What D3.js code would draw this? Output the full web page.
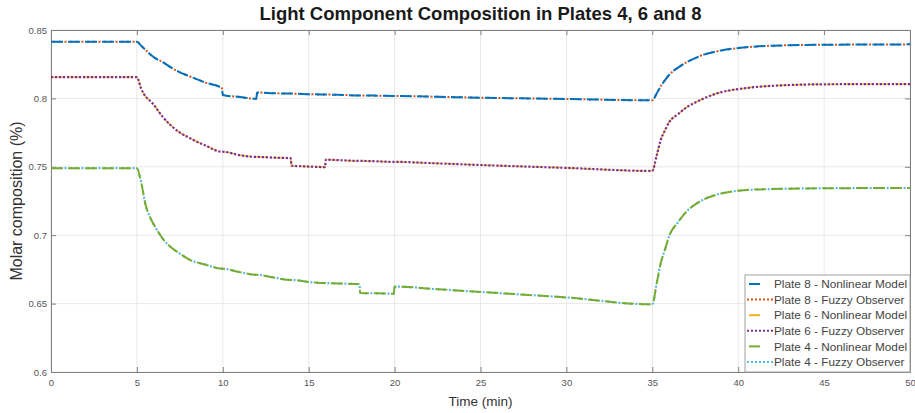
<!DOCTYPE html>
<meta charset="utf-8">
<html>
<head>
    <script src="https://d3js.org/d3.v7.min.js"></script>
    <style>
      body { margin: 0; background: #fff; }
      text { font-family: "Liberation Sans", Arial, sans-serif; }
    </style>
</head>
<body>
<div id="chart"></div>

<script>
    // time samples (min), shared by every series
    const time = [0, 5, 5.25, 5.5, 5.75, 6, 6.5, 7, 7.5, 8, 9, 9.95, 10, 11, 11.95, 12, 13, 13.95, 14, 15, 15.95, 16,
        17, 17.95, 18, 19, 19.95, 20, 22.5, 25, 30, 34.9, 35, 35.25, 35.5, 35.75, 36, 36.5, 37, 37.5, 38, 39, 40, 42, 45, 50];

    // light component composition
    const plate8 = [0.8415, 0.8415, 0.8385, 0.8355, 0.8325, 0.830, 0.8265, 0.8225, 0.819, 0.8165, 0.8115, 0.8075, 0.8025,
        0.801, 0.7997, 0.8043, 0.8038, 0.8035, 0.8035, 0.8031, 0.8028, 0.8028, 0.8025, 0.8022, 0.8022, 0.802, 0.8018,
        0.8018, 0.8012, 0.8005, 0.7996, 0.7986, 0.7986, 0.8035, 0.809, 0.8135, 0.8175, 0.8225, 0.8265, 0.8295, 0.832,
        0.835, 0.8368, 0.8385, 0.8392, 0.8395];

    const plate6 = [0.8155, 0.8155, 0.807, 0.8015, 0.7985, 0.795, 0.7865, 0.780, 0.775, 0.7715, 0.7655, 0.761, 0.761,
        0.7585, 0.7572, 0.7572, 0.7567, 0.7563, 0.7508, 0.7502, 0.7498, 0.7552, 0.7547, 0.7543, 0.7543, 0.754, 0.7536,
        0.7536, 0.7525, 0.7513, 0.7492, 0.747, 0.747, 0.758, 0.770, 0.777, 0.783, 0.7885, 0.7935, 0.797, 0.800,
        0.8045, 0.8068, 0.8092, 0.8103, 0.8105];

    const plate4 = [0.749, 0.749, 0.7385, 0.7225, 0.7135, 0.7075, 0.6975, 0.691, 0.6865, 0.6825, 0.6785, 0.6755, 0.6755,
        0.673, 0.671, 0.671, 0.669, 0.6673, 0.6673, 0.6658, 0.665, 0.665, 0.6646, 0.6642, 0.6578, 0.6575, 0.6572,
        0.6625, 0.6605, 0.6585, 0.6545, 0.6495, 0.6495, 0.6645, 0.680, 0.690, 0.700, 0.7095, 0.7175, 0.7225, 0.7262,
        0.7305, 0.7325, 0.7338, 0.7343, 0.7345];

    const legendNames = ["Plate 8 - Nonlinear Model", "Plate 8 - Fuzzy Observer",
        "Plate 6 - Nonlinear Model", "Plate 6 - Fuzzy Observer",
        "Plate 4 - Nonlinear Model", "Plate 4 - Fuzzy Observer"];

    const xTicks = [0, 5, 10, 15, 20, 25, 30, 35, 40, 45, 50];
    const yTicks = [0.6, 0.65, 0.7, 0.75, 0.8, 0.85];

    // matlab default colours, model dashed / observer dotted
    const colors = ["#0072BD", "#D95319", "#EDB120", "#7E2F8E", "#77AC30", "#4DBEEE"];
    const dashes = ["12,5", "2,3.667", "12,5", "2.2,1.8", "12,5", "2,3.667"];
    const dashOffsets = [0, 3.5, 0, 0, 0, 3.5];
    const widths = [2, 2, 1.2, 2.2, 2, 2.2];
    const seriesData = [plate8, plate8, plate6, plate6, plate4, plate4];
    // draw order so the overlap looks like the figure
    const drawOrder = [1, 0, 2, 3, 5, 4];

    // dimensions
    const margin = { top: 30, right: 5, bottom: 41, left: 51 },
        width = 915 - margin.left - margin.right,
        height = 413 - margin.top - margin.bottom;

    const root = d3.select("#chart")
        .append("svg")
        .attr("width", 915)
        .attr("height", 413);

    const svg = root.append("g")
        .attr("transform", `translate(${margin.left},${margin.top})`);

    const x = d3.scaleLinear().domain([0, 50]).range([0, width]);
    const y = d3.scaleLinear().domain([0.6, 0.85]).range([height, 0]);

    // grid
    svg.append("g").selectAll("line")
        .data(xTicks).enter().append("line")
        .attr("x1", d => x(d)).attr("x2", d => x(d))
        .attr("y1", 0).attr("y2", height)
        .attr("stroke", "#e8e8e8").attr("stroke-width", 1);

    svg.append("g").selectAll("line")
        .data(yTicks).enter().append("line")
        .attr("x1", 0).attr("x2", width)
        .attr("y1", d => y(d)).attr("y2", d => y(d))
        .attr("stroke", "#e8e8e8").attr("stroke-width", 1);

    // axes, ticks pointing inward on all four sides
    const axisColor = "#808080";
    function styleAxis(g) {
        g.select(".domain").attr("stroke", axisColor);
        g.selectAll(".tick line").attr("stroke", axisColor);
        g.selectAll(".tick text").attr("fill", "#555").style("font-size", "9.5px");
    }

    svg.append("g")
        .attr("transform", `translate(0,${height})`)
        .call(d3.axisBottom(x).tickValues(xTicks).tickSize(-5).tickPadding(7).tickFormat(d3.format("d")))
        .call(styleAxis);

    svg.append("g")
        .call(d3.axisTop(x).tickValues(xTicks).tickSize(-5).tickFormat(""))
        .call(styleAxis);

    svg.append("g")
        .call(d3.axisLeft(y).tickValues(yTicks).tickSize(-5).tickPadding(4).tickFormat(d => d3.format("")(d)))
        .call(styleAxis);

    svg.append("g")
        .attr("transform", `translate(${width},0)`)
        .call(d3.axisRight(y).tickValues(yTicks).tickSize(-5).tickFormat(""))
        .call(styleAxis);

    // lines
    const line = d3.line()
        .x((d, i) => x(time[i]))
        .y(d => y(d))
        .curve(d3.curveMonotoneX);

    drawOrder.forEach(i => {
        svg.append("path")
            .datum(seriesData[i])
            .attr("d", line)
            .attr("fill", "none")
            .attr("stroke", colors[i])
            .attr("stroke-width", widths[i])
            .attr("stroke-dasharray", dashes[i])
            .attr("stroke-dashoffset", dashOffsets[i]);
    });

    // title and labels
    root.append("text")
        .attr("x", margin.left + width / 2)
        .attr("y", 20)
        .attr("text-anchor", "middle")
        .style("font-size", "18.5px")
        .style("font-weight", "bold")
        .attr("fill", "#1a1a1a")
        .text("Light Component Composition in Plates 4, 6 and 8");

    root.append("text")
        .attr("x", margin.left + width / 2)
        .attr("y", 406)
        .attr("text-anchor", "middle")
        .style("font-size", "13.5px")
        .attr("fill", "#333")
        .text("Time (min)");

    root.append("text")
        .attr("transform", `translate(22,${margin.top + height / 2}) rotate(-90)`)
        .attr("text-anchor", "middle")
        .style("font-size", "16px")
        .attr("fill", "#333")
        .text("Molar composition (%)");

    // legend
    const legW = 165, legH = 97;
    const legend = svg.append("g")
        .attr("transform", `translate(${width - legW},${height - legH})`);

    legend.append("rect")
        .attr("width", legW).attr("height", legH)
        .attr("fill", "#fff")
        .attr("stroke", "#a0a0a0");

    const rows = legend.selectAll(".row")
        .data(legendNames)
        .enter().append("g")
        .attr("class", "row")
        .attr("transform", (d, i) => `translate(0,${9 + i * 15.6})`);

    rows.append("line")
        .attr("x1", (d, i) => i % 2 === 0 ? 4 : 2)
        .attr("x2", (d, i) => i % 2 === 0 ? 15 : 28)
        .attr("stroke", (d, i) => colors[i])
        .attr("stroke-width", 2)
        .attr("stroke-dasharray", (d, i) => i % 2 === 0 ? null : "2,2");

    rows.append("text")
        .attr("x", 29)
        .attr("dy", "0.35em")
        .style("font-size", "11.8px")
        .attr("fill", "#444")
        .text(d => d);
</script>
</body>
</html>
